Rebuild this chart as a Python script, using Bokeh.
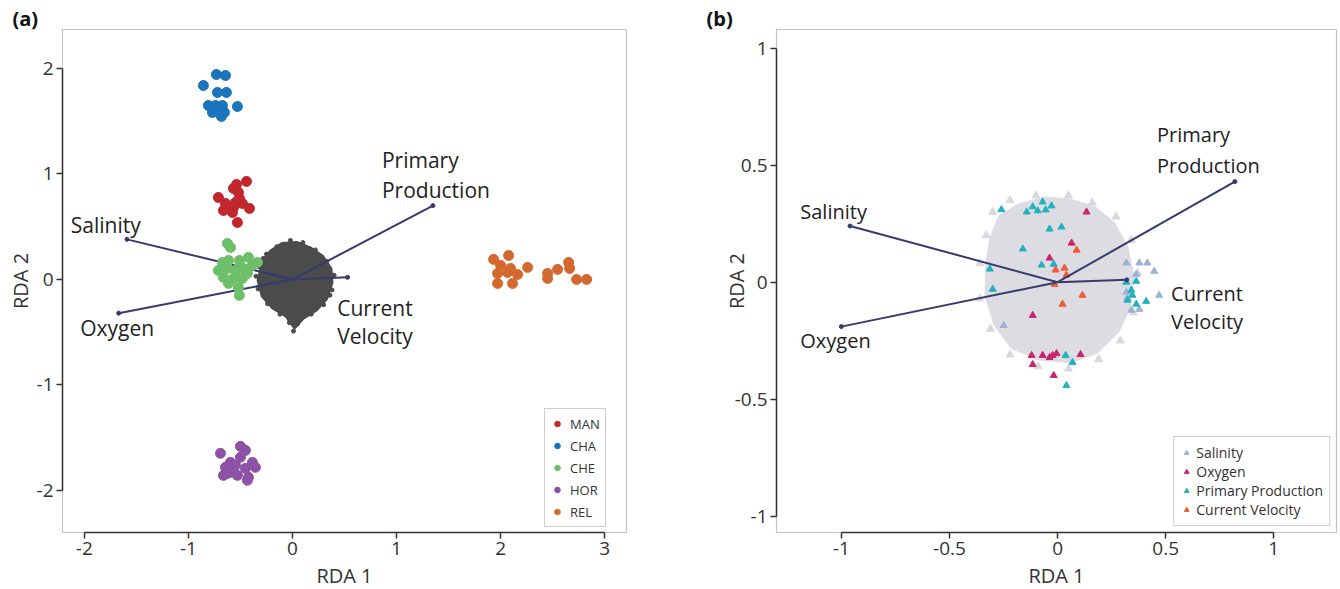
from bokeh.plotting import figure
from bokeh.layouts import row
from bokeh.models import FixedTicker, Range1d
from bokeh.core.properties import value
from bokeh.embed import file_html
from bokeh.resources import INLINE

FONT = "Open Sans"

# ---------------- Panel (a) data ----------------
man_x = [-0.712, -0.567, -0.442, -0.519, -0.644, -0.548, -0.481, -0.606, -0.413, -0.529, -0.567, -0.663, -0.577, -0.510, -0.538]
man_y = [0.777, 0.863, 0.929, 0.825, 0.720, 0.730, 0.720, 0.673, 0.673, 0.540, 0.682, 0.654, 0.635, 0.768, 0.900]

cha_x = [-0.856, -0.731, -0.644, -0.721, -0.635, -0.808, -0.740, -0.673, -0.529, -0.769, -0.702, -0.654, -0.683]
cha_y = [1.839, 1.943, 1.934, 1.773, 1.773, 1.649, 1.649, 1.649, 1.640, 1.583, 1.573, 1.583, 1.545]

che_x = [-0.625, -0.596, -0.673, -0.615, -0.510, -0.423, -0.337, -0.712, -0.625, -0.548, -0.471, -0.663, -0.567, -0.481, -0.615, -0.519, -0.433, -0.510, -0.385]
che_y = [0.341, 0.303, 0.161, 0.180, 0.180, 0.209, 0.161, 0.085, 0.104, 0.085, 0.104, 0.019, 0.009, 0.009, -0.038, -0.076, 0.057, -0.152, 0.133]

hor_x = [-0.692, -0.500, -0.452, -0.596, -0.500, -0.385, -0.644, -0.548, -0.452, -0.356, -0.625, -0.529, -0.423, -0.433, -0.596, -0.663]
hor_y = [-1.649, -1.583, -1.621, -1.735, -1.687, -1.735, -1.782, -1.763, -1.792, -1.782, -1.839, -1.858, -1.877, -1.905, -1.829, -1.858]

rel_x = [1.933, 2.000, 2.077, 1.971, 2.067, 2.163, 2.260, 1.971, 2.115, 2.452, 2.452, 2.548, 2.654, 2.663, 2.731, 2.827, 2.096]
rel_y = [0.190, 0.133, 0.227, 0.057, 0.066, 0.047, 0.114, -0.038, -0.038, 0.057, 0.009, 0.095, 0.161, 0.104, 0.000, 0.000, 0.104]

# outline of the dense grey cloud of individuals
cloud_a_x = [-0.29, -0.21, -0.10, 0.04, 0.17, 0.29, 0.37, 0.38, 0.33, 0.23, 0.10, 0.02, -0.06, -0.19, -0.29, -0.33]
cloud_a_y = [0.16, 0.27, 0.34, 0.35, 0.30, 0.22, 0.10, -0.03, -0.18, -0.29, -0.37, -0.46, -0.35, -0.27, -0.16, -0.01]
edge_a_x = [-0.32, -0.25, -0.15, -0.02, 0.10, 0.22, 0.33, 0.40, 0.38, 0.30, 0.18, 0.05, 0.01, -0.03, -0.12, -0.24, -0.33, -0.35, 0.36, -0.28]
edge_a_y = [0.12, 0.24, 0.31, 0.37, 0.35, 0.28, 0.17, 0.04, -0.10, -0.24, -0.33, -0.42, -0.49, -0.41, -0.33, -0.23, -0.09, 0.03, -0.15, 0.20]

vec_a_names = ["Salinity", "Oxygen", "Primary Production", "Current Velocity"]
vec_a_x = [-1.59, -1.67, 1.35, 0.53]
vec_a_y = [0.38, -0.32, 0.70, 0.02]

lbl_a_text = ["Salinity", "Oxygen", "Primary", "Production", "Current", "Velocity"]
lbl_a_x = [-2.13, -2.04, 0.86, 0.86, 0.43, 0.43]
lbl_a_y = [0.52, -0.46, 1.13, 0.85, -0.27, -0.54]

a_xticks = [-2, -1, 0, 1, 2, 3]
a_xtick_labels = ["-2", "-1", "0", "1", "2", "3"]
a_yticks = [-2, -1, 0, 1, 2]
a_ytick_labels = ["-2", "-1", "0", "1", "2"]

# ---------------- Panel (b) data ----------------
sal_x = [0.318, 0.378, 0.415, 0.447, 0.364, 0.318, 0.323, 0.470, 0.378, 0.341, -0.249]
sal_y = [0.082, 0.082, 0.082, 0.047, 0.034, -0.043, -0.069, -0.056, -0.116, -0.120, -0.185]

oxy_x = [0.134, 0.065, -0.037, -0.115, -0.120, -0.115, -0.069, -0.037, -0.023, -0.005, 0.106, -0.018]
oxy_y = [0.300, 0.167, 0.103, -0.142, -0.313, -0.352, -0.313, -0.322, -0.313, -0.305, -0.309, -0.399]

pp_x = [-0.143, -0.115, -0.092, -0.069, -0.055, -0.028, -0.037, 0.018, -0.161, -0.074, -0.018, -0.313, -0.300, 0.318, 0.364, 0.341, 0.346, 0.323, 0.364, 0.410, 0.037, 0.069, 0.041, -0.26]
pp_y = [0.300, 0.322, 0.305, 0.343, 0.309, 0.326, 0.227, 0.236, 0.142, 0.073, 0.077, 0.056, -0.030, 0.000, 0.004, -0.034, -0.056, -0.077, -0.094, -0.082, -0.313, -0.343, -0.442, 0.31]

cv_x = [0.088, -0.009, 0.032, 0.041, -0.014, 0.115, 0.023]
cv_y = [0.137, 0.052, 0.060, 0.030, -0.009, -0.056, -0.094]

cloud_b_x = [-0.27, -0.18, -0.06, 0.06, 0.17, 0.26, 0.32, 0.35, 0.33, 0.28, 0.18, 0.06, -0.08, -0.21, -0.29, -0.33, -0.33, -0.31]
cloud_b_y = [0.28, 0.33, 0.36, 0.35, 0.32, 0.25, 0.15, 0.02, -0.11, -0.21, -0.30, -0.34, -0.33, -0.28, -0.18, -0.06, 0.06, 0.18]
edge_b_x = [-0.30, -0.22, -0.10, 0.05, 0.16, 0.27, 0.34, 0.37, 0.35, 0.29, 0.19, 0.05, -0.09, -0.22, -0.31, -0.36, -0.36, -0.33]
edge_b_y = [0.30, 0.35, 0.37, 0.37, 0.34, 0.28, 0.18, 0.04, -0.13, -0.25, -0.33, -0.37, -0.36, -0.31, -0.20, -0.07, 0.08, 0.20]

vec_b_x = [-0.96, -1.00, 0.82, 0.32]
vec_b_y = [0.24, -0.19, 0.43, 0.01]

lbl_b_text = ["Salinity", "Oxygen", "Primary", "Production", "Current", "Velocity"]
lbl_b_x = [-1.19, -1.19, 0.46, 0.46, 0.525, 0.525]
lbl_b_y = [0.30, -0.25, 0.63, 0.50, -0.047, -0.17]

b_ticks = [-1, -0.5, 0, 0.5, 1]
b_tick_labels = ["-1", "-0.5", "0", "0.5", "1"]

ARROW = "#363a6e"
TXT = "#222222"


def style(p, xt, xl, yt, yl, xb, yb, title_offset, ylab_standoff):
    p.xgrid.visible = False
    p.ygrid.visible = False
    p.outline_line_color = "#c4c4c4"
    p.outline_line_width = 1.2
    p.xaxis.ticker = FixedTicker(ticks=xt)
    p.yaxis.ticker = FixedTicker(ticks=yt)
    p.xaxis.major_label_overrides = {t: l for t, l in zip(xt, xl)}
    p.yaxis.major_label_overrides = {t: l for t, l in zip(yt, yl)}
    p.xaxis.bounds = xb
    p.yaxis.bounds = yb
    for ax in (p.xaxis[0], p.yaxis[0]):
        ax.axis_line_color = "#333333"
        ax.axis_line_width = 1.5
        ax.major_tick_line_color = "#333333"
        ax.major_tick_line_width = 1.5
        ax.major_tick_out = 6
        ax.major_tick_in = 0
        ax.minor_tick_line_color = None
        ax.major_label_text_font = FONT
        ax.major_label_text_font_size = "19px"
        ax.major_label_text_color = "#333333"
        ax.axis_label_text_font = FONT
        ax.axis_label_text_font_size = "20px"
        ax.axis_label_text_font_style = "normal"
        ax.axis_label_text_color = "#333333"
        ax.major_label_standoff = 3
    p.xaxis.axis_label_standoff = 4
    p.yaxis.axis_label_standoff = ylab_standoff
    p.background_fill_color = "white"
    p.border_fill_color = "white"
    p.title.align = "left"
    p.title.offset = title_offset
    p.title.text_font = FONT
    p.title.text_font_size = "20px"
    p.title.text_font_style = "bold"
    p.title.text_color = "#111111"
    p.title.standoff = -4


# ---------------- Figure (a) ----------------
pa = figure(frame_width=564, frame_height=503, min_border_left=62, min_border_right=44,
            min_border_top=29, min_border_bottom=56, title="(a)",
            x_range=Range1d(-2.21, 3.21), y_range=Range1d(-2.40, 2.37),
            output_backend="svg", toolbar_location=None,
            x_axis_label="RDA 1", y_axis_label="RDA 2")
style(pa, a_xticks, a_xtick_labels, a_yticks, a_ytick_labels, (-2, 3), (-2, 2), -50, 0)

pa.patch(cloud_a_x, cloud_a_y, fill_color="#4b4b4b", line_color="#4b4b4b", line_width=3)
pa.scatter(edge_a_x, edge_a_y, size=4, color="#4b4b4b")

for vx, vy in zip(vec_a_x, vec_a_y):
    pa.line([0, vx], [0, vy], line_color=ARROW, line_width=2)
pa.scatter(vec_a_x, vec_a_y, size=4, color=ARROW)

pa.scatter(man_x, man_y, size=10, color="#c1272d", legend_label="MAN")
pa.scatter(cha_x, cha_y, size=10, color="#1b75bc", legend_label="CHA")
pa.scatter(che_x, che_y, size=10, color="#6dbf6a", legend_label="CHE")
pa.scatter(hor_x, hor_y, size=10, color="#8c52a5", legend_label="HOR")
pa.scatter(rel_x, rel_y, size=10, color="#d4692f", legend_label="REL")

pa.text(lbl_a_x, lbl_a_y, text=lbl_a_text, text_font=value(FONT), text_font_size="21px",
        text_color=TXT, text_align="left", text_baseline="middle")

la = pa.legend[0]
la.location = (482, 5)
la.margin = 0
la.padding = 5
la.spacing = 3
la.border_line_color = "#a0a0a0"
la.border_line_width = 1
la.label_text_font = FONT
la.label_text_font_size = "13px"
la.label_text_color = "#333333"
la.glyph_width = 14
la.glyph_height = 19
la.label_height = 19
la.label_standoff = 6

# ---------------- Figure (b) ----------------
pb = figure(frame_width=560, frame_height=503, min_border_left=106, min_border_right=2,
            min_border_top=29, min_border_bottom=56, title="(b)",
            x_range=Range1d(-1.30, 1.29), y_range=Range1d(-1.07, 1.08),
            output_backend="svg", toolbar_location=None,
            x_axis_label="RDA 1", y_axis_label="RDA 2")
style(pb, b_ticks, b_tick_labels, b_ticks, b_tick_labels, (-1, 1), (-1, 1), -70, -18)

pb.patch(cloud_b_x, cloud_b_y, fill_color="#dcdce2", line_color="#dcdce2", line_width=3)
pb.scatter(edge_b_x, edge_b_y, marker="triangle", size=8, color="#d8d8de")

pb.scatter(sal_x, sal_y, marker="triangle", size=7, color="#9db2d6", legend_label="Salinity")
pb.scatter(oxy_x, oxy_y, marker="triangle", size=7, color="#c9256f", legend_label="Oxygen")
pb.scatter(pp_x, pp_y, marker="triangle", size=7, color="#20b3bf", legend_label="Primary Production")
pb.scatter(cv_x, cv_y, marker="triangle", size=7, color="#f15a38", legend_label="Current Velocity")

for vx, vy in zip(vec_b_x, vec_b_y):
    pb.line([0, vx], [0, vy], line_color=ARROW, line_width=2)
pb.scatter(vec_b_x, vec_b_y, size=4, color=ARROW)

pb.text(lbl_b_x, lbl_b_y, text=lbl_b_text, text_font=value(FONT), text_font_size="20px",
        text_color=TXT, text_align="left", text_baseline="middle")

lb = pb.legend[0]
lb.location = "bottom_right"
lb.margin = 6
lb.padding = 6
lb.spacing = 0
lb.border_line_color = "#a0a0a0"
lb.border_line_width = 1
lb.label_text_font = FONT
lb.label_text_font_size = "14px"
lb.label_text_color = "#333333"
lb.glyph_width = 12
lb.glyph_height = 15
lb.label_height = 15
lb.label_standoff = 4

layout = row(pa, pb)
open("out.html", "w").write(file_html(layout, INLINE))
